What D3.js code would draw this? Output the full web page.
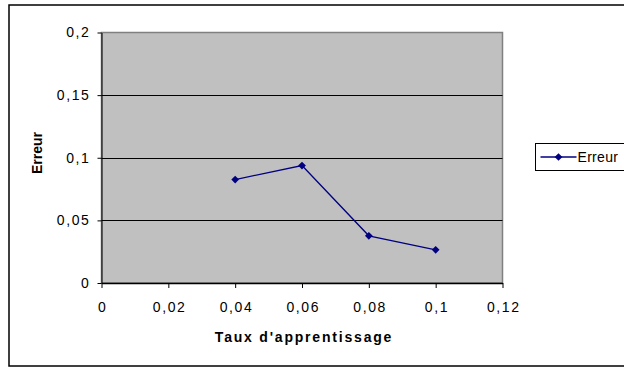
<!DOCTYPE html>
<html>
<head>
<meta charset="utf-8">
<script src="https://cdn.jsdelivr.net/npm/d3@7"></script>
<style>
    body { margin: 0; background: #fff; }
    text { font-family: "Liberation Sans", Arial, sans-serif; }
    .tick-label { font-size: 14px; letter-spacing: 1.6px; }
    .legend-label { font-size: 14px; letter-spacing: 0.3px; }
    .x-title { font-size: 14px; font-weight: bold; letter-spacing: 1.8px; }
    .y-title { font-size: 14px; font-weight: bold; }
</style>
</head>
<body>
<div id="chart"></div>
<script>
"use strict"

// values
const rates = [0.04, 0.06, 0.08, 0.1]
const errors = [0.0826, 0.0938, 0.0377, 0.0265]
const xTicks = [0, 0.02, 0.04, 0.06, 0.08, 0.1, 0.12]
const yTicks = [0, 0.05, 0.1, 0.15, 0.2]
const seriesName = 'Erreur'
const xTitle = "Taux d'apprentissage"
const yTitle = 'Erreur'

const w = 624, h = 367
const frame = { l: 101.5, r: 502.5, t: 32.5, b: 283 }
const fmt = v => String(+v.toFixed(2)).replace('.', ',')

const svg = d3.select('#chart').append('svg')
    .attr('width', w)
    .attr('height', h)

// outer chart border
svg.append('rect')
    .attr('x', 9).attr('y', 5)
    .attr('width', 640).attr('height', 361)
    .attr('fill', '#fff')
    .attr('stroke', '#000')
    .attr('stroke-width', 1.5)

const x = d3.scaleLinear().domain([0, 0.12]).range([frame.l, frame.r])
const y = d3.scaleLinear().domain([0, 0.2]).range([frame.b, frame.t])

// plot area
svg.append('rect')
    .attr('x', frame.l).attr('y', frame.t)
    .attr('width', frame.r - frame.l).attr('height', frame.b - frame.t)
    .attr('fill', '#c0c0c0')
    .attr('stroke', '#808080')
    .attr('stroke-width', 1.5)

// gridlines
svg.append('g')
    .selectAll('line')
    .data(yTicks.filter(v => v > 0 && v < 0.2))
    .enter().append('line')
        .attr('x1', frame.l).attr('x2', frame.r)
        .attr('y1', d => Math.round(y(d)) + 0.5).attr('y2', d => Math.round(y(d)) + 0.5)
        .attr('stroke', '#000')

// y-axis
const yAxis = d3.axisLeft(y).tickValues(yTicks).tickFormat(fmt).tickSize(4).tickPadding(7).tickSizeOuter(0)
const gy = svg.append('g')
    .attr('transform', `translate(${ frame.l }, 0)`)
    .call(yAxis)
gy.select('.domain').attr('stroke', '#000')
gy.selectAll('.tick text').attr('class', 'tick-label').attr('fill', '#000').attr('font-family', null).attr('font-size', null)

// x-axis
const xAxis = d3.axisBottom(x).tickValues(xTicks).tickFormat(fmt).tickSize(5).tickPadding(14).tickSizeOuter(0)
const gx = svg.append('g')
    .attr('transform', `translate(0, ${ frame.b })`)
    .call(xAxis)
gx.select('.domain').attr('stroke', '#000').attr('stroke-width', 1.5)
gx.selectAll('.tick text').attr('class', 'tick-label').attr('fill', '#000').attr('font-family', null).attr('font-size', null)
    .attr('dx', 0.8)

// series
const pts = rates.map((r, i) => ({ r: r, e: errors[i] }))
const diamond = d3.symbol().type(d3.symbolDiamond2).size(38)

svg.append('path')
    .datum(pts)
    .attr('fill', 'none')
    .attr('stroke', '#000080')
    .attr('stroke-width', 1.3)
    .attr('d', d3.line().x(d => x(d.r)).y(d => y(d.e)))

svg.selectAll('.datapt')
    .data(pts)
    .enter().append('path')
        .attr('class', 'datapt')
        .attr('d', diamond())
        .attr('fill', '#000080')
        .attr('transform', d => `translate(${ x(d.r) }, ${ y(d.e) })`)

// axis titles
svg.append('text')
    .text(xTitle)
    .attr('class', 'x-title')
    .attr('text-anchor', 'middle')
    .attr('x', 304).attr('y', 342)

svg.append('text')
    .text(yTitle)
    .attr('class', 'y-title')
    .attr('text-anchor', 'middle')
    .attr('transform', 'translate(42, 153) rotate(-90)')

// legend
const lg = svg.append('g').attr('transform', 'translate(535.5, 143.5)')
lg.append('rect')
    .attr('width', 120).attr('height', 27)
    .attr('fill', '#fff')
    .attr('stroke', '#000')
lg.append('line')
    .attr('x1', 5).attr('x2', 41)
    .attr('y1', 13.5).attr('y2', 13.5)
    .attr('stroke', '#000080')
    .attr('stroke-width', 1.3)
lg.append('path')
    .attr('d', diamond())
    .attr('fill', '#000080')
    .attr('transform', 'translate(23, 13.5)')
lg.append('text')
    .text(seriesName)
    .attr('class', 'legend-label')
    .attr('x', 42).attr('y', 18.5)
</script>
</body>
</html>
